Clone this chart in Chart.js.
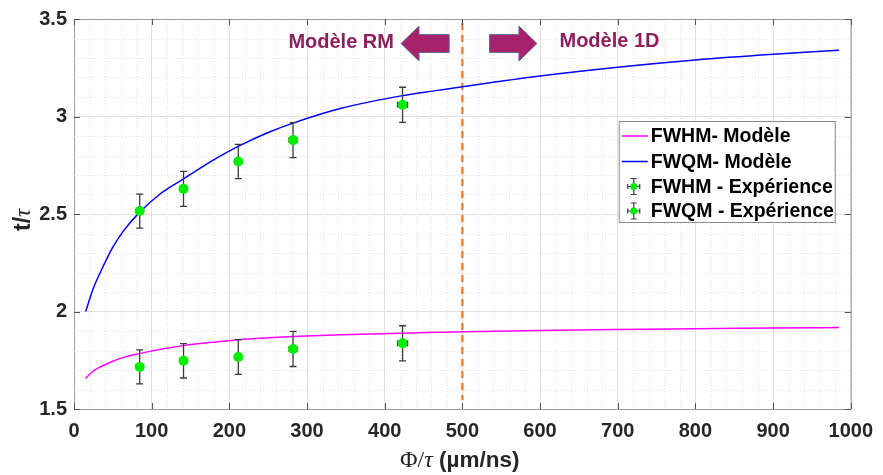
<!DOCTYPE html>
<html>
<head>
<meta charset="utf-8">
<script src="https://cdn.jsdelivr.net/npm/chart.js@4.4.0/dist/chart.umd.min.js"></script>
<style>
  html, body { margin: 0; padding: 0; background: #fff; }
</style>
</head>
<body>
<canvas id="chart" width="883" height="475"></canvas>
<script>
// Model curves (same x grid for both)
const modelX = [15, 25, 35, 50, 65, 84, 110, 141, 183, 212, 250, 282, 344, 423, 468, 502, 600, 700, 800, 900, 985];
const fwhmModel = [1.657, 1.695, 1.718, 1.745, 1.766, 1.784, 1.805, 1.825, 1.844, 1.855, 1.865, 1.872, 1.881, 1.889, 1.893, 1.896, 1.903, 1.908, 1.912, 1.915, 1.918];
const fwqmModel = [2.00, 2.12, 2.21, 2.33, 2.42, 2.507, 2.60, 2.68, 2.785, 2.848, 2.918, 2.966, 3.042, 3.107, 3.134, 3.154, 3.208, 3.253, 3.29, 3.319, 3.340];

// Experimental points
const expX = [84.6, 141, 211.5, 282, 423];
const expXErr = [2, 3, 4, 5, 6.5];
const fwhmExp = [1.716, 1.747, 1.767, 1.808, 1.837];
const fwhmErr = [0.087, 0.088, 0.089, 0.09, 0.09];
const fwqmExp = [2.515, 2.629, 2.769, 2.879, 3.06];
const fwqmErr = [0.087, 0.09, 0.088, 0.09, 0.09];

// Axis ticks and limit line
const xTicks = [0, 100, 200, 300, 400, 500, 600, 700, 800, 900, 1000];
const yTicks = [1.5, 2, 2.5, 3, 3.5];
const limitX = 500;
const limitY = [3.48, 1.545];

const legendLabels = ["FWHM- Modèle", "FWQM- Modèle", "FWHM - Expérience", "FWQM - Expérience"];

const SANS = '"Liberation Sans", Arial, sans-serif';
const SERIF = '"Liberation Serif", "Times New Roman", serif';
const GREEN = "#00ee00";
const ERR = "#3a3a3a";

const pts = (xs, ys) => xs.map((v, i) => ({ x: v, y: ys[i] }));

// Error bars, minor grid, box, arrows, legend, titles
const extras = {
  id: "extras",
  beforeDatasetsDraw(chart) {
    const { ctx, chartArea: a, scales: { x, y } } = chart;
    ctx.save();
    ctx.strokeStyle = "#e2e2e2";
    ctx.lineWidth = 1;
    ctx.setLineDash([1, 2]);
    for (let v = 20; v < 1000; v += 20) {
      if (v % 100 === 0) continue;
      const px = Math.round(x.getPixelForValue(v)) + 0.5;
      ctx.beginPath(); ctx.moveTo(px, a.top); ctx.lineTo(px, a.bottom); ctx.stroke();
    }
    for (let i = 16; i < 35; i++) {
      if (i % 5 === 0) continue;
      const py = Math.round(y.getPixelForValue(i / 10)) + 0.5;
      ctx.beginPath(); ctx.moveTo(a.left, py); ctx.lineTo(a.right, py); ctx.stroke();
    }
    ctx.restore();
  },
  beforeDatasetDraw(chart, args) {
    const ds = chart.data.datasets[args.index];
    if (!ds.errY) return;
    const { ctx, scales: { x, y } } = chart;
    ctx.save();
    ctx.strokeStyle = ERR;
    ctx.lineWidth = 1.3;
    ds.data.forEach((p, i) => {
      const px = x.getPixelForValue(p.x), py = y.getPixelForValue(p.y);
      const top = y.getPixelForValue(p.y + ds.errY[i]), bot = y.getPixelForValue(p.y - ds.errY[i]);
      const l = x.getPixelForValue(p.x - ds.errX[i]), r = x.getPixelForValue(p.x + ds.errX[i]);
      ctx.beginPath();
      ctx.moveTo(px, top); ctx.lineTo(px, bot);
      ctx.moveTo(px - 3.5, top); ctx.lineTo(px + 3.5, top);
      ctx.moveTo(px - 3.5, bot); ctx.lineTo(px + 3.5, bot);
      ctx.moveTo(l, py); ctx.lineTo(r, py);
      ctx.moveTo(l, py - 3); ctx.lineTo(l, py + 3);
      ctx.moveTo(r, py - 3); ctx.lineTo(r, py + 3);
      ctx.stroke();
    });
    ctx.restore();
  },
  afterDatasetsDraw(chart) {
    const { ctx, chartArea: a, scales: { x, y } } = chart;
    ctx.save();

    // top/right box + inward ticks
    ctx.strokeStyle = "#9a9a9a";
    ctx.lineWidth = 1;
    ctx.beginPath();
    ctx.moveTo(a.left, a.top + 0.5); ctx.lineTo(a.right + 0.5, a.top + 0.5); ctx.lineTo(a.right + 0.5, a.bottom);
    ctx.stroke();
    ctx.strokeStyle = "#555";
    xTicks.forEach(v => {
      const px = Math.round(x.getPixelForValue(v)) + 0.5;
      ctx.beginPath();
      ctx.moveTo(px, a.bottom); ctx.lineTo(px, a.bottom - 6);
      ctx.moveTo(px, a.top); ctx.lineTo(px, a.top + 6);
      ctx.stroke();
    });
    yTicks.forEach(v => {
      const py = Math.round(y.getPixelForValue(v)) + 0.5;
      ctx.beginPath();
      ctx.moveTo(a.left, py); ctx.lineTo(a.left + 6, py);
      ctx.moveTo(a.right, py); ctx.lineTo(a.right - 6, py);
      ctx.stroke();
    });

    // block arrows
    const yc = y.getPixelForValue(3.374);
    const arrow = (tail, tip) => {
      const d = Math.sign(tip - tail), hb = tip - d * 18;
      ctx.beginPath();
      ctx.moveTo(tail, yc - 9); ctx.lineTo(hb, yc - 9); ctx.lineTo(hb, yc - 17.5);
      ctx.lineTo(tip, yc); ctx.lineTo(hb, yc + 17.5); ctx.lineTo(hb, yc + 9);
      ctx.lineTo(tail, yc + 9); ctx.closePath();
      ctx.fillStyle = "#a8216b"; ctx.fill();
      ctx.strokeStyle = "#5d6c96"; ctx.lineWidth = 1; ctx.stroke();
    };
    arrow(x.getPixelForValue(483), x.getPixelForValue(421));
    arrow(x.getPixelForValue(535), x.getPixelForValue(596));
    ctx.fillStyle = "#8e1f5e";
    ctx.font = "bold 20px " + SANS;
    ctx.textBaseline = "alphabetic";
    ctx.textAlign = "left";
    ctx.fillText("Modèle RM", x.getPixelForValue(276), y.getPixelForValue(3.35));
    ctx.fillText("Modèle 1D", x.getPixelForValue(625), y.getPixelForValue(3.356));

    // legend
    const lx = a.right - 232, ly = a.top + 102, lw = 216, lh = 101;
    ctx.fillStyle = "#fff";
    ctx.fillRect(lx, ly, lw, lh);
    ctx.strokeStyle = "#8a8a8a"; ctx.lineWidth = 1;
    ctx.strokeRect(lx + 0.5, ly + 0.5, lw, lh);
    const rows = [15, 40.5, 65.5, 90];
    ctx.font = "bold 19.5px " + SANS;
    ctx.textBaseline = "middle";
    legendLabels.forEach((lab, i) => {
      const ry = ly + rows[i];
      if (i < 2) {
        ctx.strokeStyle = i === 0 ? "#ff00ff" : "#0000ff";
        ctx.lineWidth = 1.5;
        ctx.beginPath(); ctx.moveTo(lx + 3, ry); ctx.lineTo(lx + 29, ry); ctx.stroke();
      } else {
        const cx = lx + 15;
        ctx.strokeStyle = ERR; ctx.lineWidth = 1.2;
        ctx.beginPath();
        ctx.moveTo(cx, ry - 8); ctx.lineTo(cx, ry + 8);
        ctx.moveTo(cx - 3, ry - 8); ctx.lineTo(cx + 3, ry - 8);
        ctx.moveTo(cx - 3, ry + 8); ctx.lineTo(cx + 3, ry + 8);
        ctx.moveTo(cx - 6, ry); ctx.lineTo(cx + 6, ry);
        ctx.moveTo(cx - 6, ry - 2.5); ctx.lineTo(cx - 6, ry + 2.5);
        ctx.moveTo(cx + 6, ry - 2.5); ctx.lineTo(cx + 6, ry + 2.5);
        ctx.stroke();
        ctx.fillStyle = GREEN;
        ctx.beginPath(); ctx.arc(cx, ry, 3.5, 0, Math.PI * 2); ctx.fill();
      }
      ctx.fillStyle = "#000";
      ctx.fillText(lab, lx + 32, ry + 1);
    });

    // axis titles
    ctx.fillStyle = "#262626";
    ctx.textBaseline = "alphabetic";
    let tx = 400;
    const ty = 467;
    const part = (txt, font) => { ctx.font = font; ctx.fillText(txt, tx, ty); tx += ctx.measureText(txt).width; };
    part("Φ/", "24px " + SERIF);
    part("τ", "italic 24px " + SERIF);
    part(" (µm/ns)", "bold 22.5px " + SANS);

    ctx.translate(30, 231);
    ctx.rotate(-Math.PI / 2);
    tx = 0;
    const part2 = (txt, font) => { ctx.font = font; ctx.fillText(txt, tx, 0); tx += ctx.measureText(txt).width; };
    part2("t/", "bold 23px " + SANS);
    part2("τ", "italic 23px " + SERIF);
    ctx.restore();
  }
};

new Chart(document.getElementById("chart"), {
  type: "scatter",
  data: {
    datasets: [
      { label: legendLabels[2], data: pts(expX, fwhmExp), errX: expXErr, errY: fwhmErr,
        pointRadius: 5, pointBackgroundColor: GREEN, pointBorderWidth: 0 },
      { label: legendLabels[3], data: pts(expX, fwqmExp), errX: expXErr, errY: fwqmErr,
        pointRadius: 5, pointBackgroundColor: GREEN, pointBorderWidth: 0 },
      { label: legendLabels[0], data: pts(modelX, fwhmModel), showLine: true, pointRadius: 0,
        borderColor: "#ff00ff", borderWidth: 1.5, cubicInterpolationMode: "monotone" },
      { label: legendLabels[1], data: pts(modelX, fwqmModel), showLine: true, pointRadius: 0,
        borderColor: "#0000ff", borderWidth: 1.5, cubicInterpolationMode: "monotone" },
      { label: "limit", data: limitY.map(v => ({ x: limitX, y: v })), showLine: true, pointRadius: 0,
        borderColor: "#f0781e", borderWidth: 2.2, borderDash: [7, 5] }
    ]
  },
  options: {
    responsive: false,
    animation: false,
    layout: { padding: { left: 0, right: 26, top: 17, bottom: 0 } },
    plugins: { legend: { display: false }, tooltip: { enabled: false } },
    scales: {
      x: {
        type: "linear", min: 0, max: 1000,
        afterBuildTicks: s => { s.ticks = xTicks.map(v => ({ value: v })); },
        afterFit: s => { s.height = 66; },
        ticks: { color: "#262626", font: { family: SANS, size: 20, weight: "bold" }, padding: 10, maxRotation: 0, callback: v => String(v) },
        grid: { color: "#e0e0e0", drawTicks: false },
        border: { color: "#9a9a9a" }
      },
      y: {
        min: 1.5, max: 3.5,
        afterBuildTicks: s => { s.ticks = yTicks.map(v => ({ value: v })); },
        afterFit: s => { s.width = 74; },
        ticks: { color: "#262626", font: { family: SANS, size: 20, weight: "bold" }, padding: 7, callback: v => String(v) },
        grid: { color: "#e0e0e0", drawTicks: false },
        border: { color: "#9a9a9a" }
      }
    }
  },
  plugins: [extras]
});
</script>
</body>
</html>
